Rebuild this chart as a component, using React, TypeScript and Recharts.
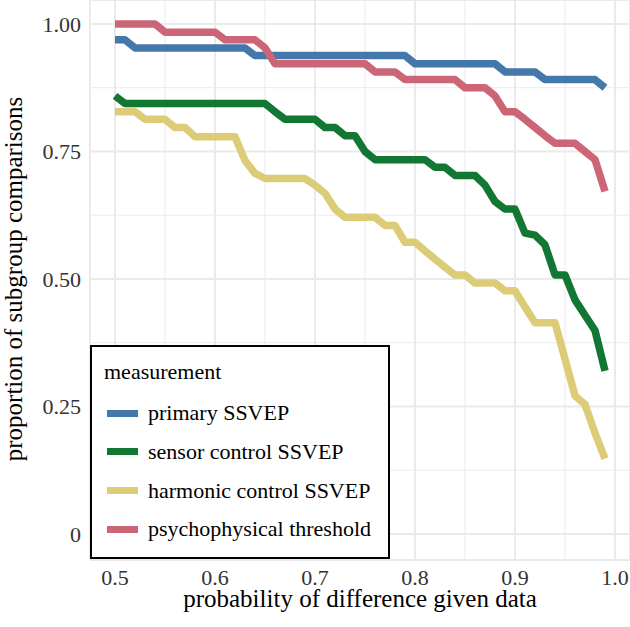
import React from "react";
import { LineChart, Line, XAxis, YAxis, CartesianGrid, Legend, Label } from "recharts";

const xValues = [
  0.5, 0.51, 0.52, 0.53, 0.54, 0.55, 0.56, 0.57, 0.58, 0.59,
  0.6, 0.61, 0.62, 0.63, 0.64, 0.65, 0.66, 0.67, 0.68, 0.69,
  0.7, 0.71, 0.72, 0.73, 0.74, 0.75, 0.76, 0.77, 0.78, 0.79,
  0.8, 0.81, 0.82, 0.83, 0.84, 0.85, 0.86, 0.87, 0.88, 0.89,
  0.9, 0.91, 0.92, 0.93, 0.94, 0.95, 0.96, 0.97, 0.98, 0.99,
];

const primarySSVEP = [
  0.969, 0.969, 0.953, 0.953, 0.953, 0.953, 0.953, 0.953, 0.953, 0.953,
  0.953, 0.953, 0.953, 0.953, 0.938, 0.938, 0.938, 0.938, 0.938, 0.938,
  0.938, 0.938, 0.938, 0.938, 0.938, 0.938, 0.938, 0.938, 0.938, 0.938,
  0.922, 0.922, 0.922, 0.922, 0.922, 0.922, 0.922, 0.922, 0.922, 0.906,
  0.906, 0.906, 0.906, 0.891, 0.891, 0.891, 0.891, 0.891, 0.891, 0.875,
];

const sensorControl = [
  0.859, 0.844, 0.844, 0.844, 0.844, 0.844, 0.844, 0.844, 0.844, 0.844,
  0.844, 0.844, 0.844, 0.844, 0.844, 0.844, 0.828, 0.813, 0.813, 0.813,
  0.813, 0.797, 0.797, 0.781, 0.781, 0.75, 0.734, 0.734, 0.734, 0.734,
  0.734, 0.734, 0.719, 0.719, 0.703, 0.703, 0.703, 0.684, 0.652, 0.637,
  0.637, 0.59, 0.586, 0.567, 0.508, 0.508, 0.459, 0.429, 0.399, 0.32,
];

const harmonicControl = [
  0.828, 0.828, 0.828, 0.813, 0.813, 0.813, 0.797, 0.797, 0.779, 0.779,
  0.779, 0.779, 0.779, 0.732, 0.707, 0.697, 0.697, 0.697, 0.697, 0.697,
  0.684, 0.668, 0.637, 0.621, 0.621, 0.621, 0.621, 0.605, 0.605, 0.572,
  0.572, 0.555, 0.539, 0.523, 0.508, 0.508, 0.492, 0.492, 0.492, 0.477,
  0.477, 0.445, 0.414, 0.414, 0.414, 0.343, 0.271, 0.254, 0.198, 0.148,
];

const psychophysical = [
  1.0, 1.0, 1.0, 1.0, 1.0, 0.984, 0.984, 0.984, 0.984, 0.984,
  0.984, 0.969, 0.969, 0.969, 0.969, 0.953, 0.922, 0.922, 0.922, 0.922,
  0.922, 0.922, 0.922, 0.922, 0.922, 0.922, 0.906, 0.906, 0.906, 0.891,
  0.891, 0.891, 0.891, 0.891, 0.891, 0.875, 0.875, 0.875, 0.859, 0.828,
  0.828, 0.813, 0.797, 0.781, 0.766, 0.766, 0.766, 0.75, 0.734, 0.672,
];

const seriesKeys = ["primary", "sensor", "harmonic", "psycho"];
const seriesNames = [
  "primary SSVEP",
  "sensor control SSVEP",
  "harmonic control SSVEP",
  "psychophysical threshold",
];
const seriesColors = ["#4477AA", "#117733", "#DDCC77", "#CC6677"];
const seriesValues = [primarySSVEP, sensorControl, harmonicControl, psychophysical];

const xMajorTicks = [0.5, 0.6, 0.7, 0.8, 0.9, 1.0];
const xMinorTicks = [0.55, 0.65, 0.75, 0.85, 0.95];
const yMajorTicks = [0, 0.25, 0.5, 0.75, 1.0];
const yMinorTicks = [0.125, 0.375, 0.625, 0.875];

const legendTitle = "measurement";
const xTitle = "probability of difference given data";
const yTitle = "proportion of subgroup comparisons";

const data = xValues.map((x, i) => {
  const row: Record<string, number> = { x };
  seriesKeys.forEach((k, j) => {
    row[k] = seriesValues[j][i];
  });
  return row;
});

const FONT = "'Liberation Serif', 'Times New Roman', serif";
const X_DOMAIN: [number, number] = [0.475, 1.015];
const Y_DOMAIN: [number, number] = [-0.051, 1.047];

const LegendBox = () => (
  <div
    style={{
      width: 300,
      height: 214,
      boxSizing: "border-box",
      border: "2px solid #000",
      background: "#fff",
      position: "relative",
      fontFamily: FONT,
      color: "#000",
    }}
  >
    <div
      style={{
        position: "absolute",
        left: 12,
        top: 10,
        fontSize: 22,
        lineHeight: "30px",
      }}
    >
      {legendTitle}
    </div>
    {seriesNames.map((name, i) => (
      <div
        key={name}
        style={{
          position: "absolute",
          left: 15,
          top: 51 + i * 38.8,
          height: 30,
          display: "flex",
          alignItems: "center",
        }}
      >
        <div style={{ width: 31, height: 7, background: seriesColors[i] }} />
        <span style={{ marginLeft: 10, fontSize: 22, lineHeight: "30px", whiteSpace: "nowrap" }}>
          {name}
        </span>
      </div>
    ))}
  </div>
);

export default function App() {
  return (
    <div style={{ position: "absolute", left: 0, top: 0, width: 630, height: 627, background: "#fff" }}>
      <LineChart
        width={630}
        height={627}
        data={data}
        margin={{ top: 0, right: 0, bottom: 0, left: 0 }}
      >
        <CartesianGrid
          stroke="#EBEBEB"
          strokeWidth={1}
          xAxisId="minor"
          yAxisId="minor"
        />
        <CartesianGrid stroke="#EAEAEA" strokeWidth={2} />
        <XAxis
          xAxisId="minor"
          dataKey="x"
          type="number"
          domain={X_DOMAIN}
          ticks={xMinorTicks}
          allowDataOverflow
          hide
        />
        <YAxis
          yAxisId="minor"
          type="number"
          domain={Y_DOMAIN}
          ticks={yMinorTicks}
          allowDataOverflow
          hide
        />
        <XAxis
          dataKey="x"
          type="number"
          domain={X_DOMAIN}
          ticks={xMajorTicks}
          tickFormatter={(v: number) => v.toFixed(1)}
          axisLine={false}
          tickLine={false}
          tickSize={6}
          tickMargin={3}
          height={67}
          allowDataOverflow
          tick={{ fontSize: 22, fill: "#333", fontFamily: FONT }}
        >
          <Label
            content={(p: any) => {
              const vb = p.viewBox || {};
              return (
                <text
                  x={vb.x + vb.width / 2}
                  y={607}
                  textAnchor="middle"
                  fontSize={25}
                  fontFamily={FONT}
                  fill="#000"
                >
                  {xTitle}
                </text>
              );
            }}
          />
        </XAxis>
        <YAxis
          type="number"
          domain={Y_DOMAIN}
          ticks={yMajorTicks}
          tickFormatter={(v: number) => (v === 0 ? "0" : v.toFixed(2))}
          axisLine={false}
          tickLine={false}
          tickSize={6}
          tickMargin={3}
          width={90}
          allowDataOverflow
          tick={{ fontSize: 22, fill: "#333", fontFamily: FONT }}
        >
          <Label
            content={() => {
              const cy = 279;
              const bx = 22;
              return (
                <text
                  x={bx}
                  y={cy}
                  transform={`rotate(-90, ${bx}, ${cy})`}
                  textAnchor="middle"
                  fontSize={25}
                  fontFamily={FONT}
                  fill="#000"
                >
                  {yTitle}
                </text>
              );
            }}
          />
        </YAxis>
        <Legend
          layout="vertical"
          align="center"
          verticalAlign="middle"
          content={() => <LegendBox />}
          wrapperStyle={{ left: 90, top: 345, width: 300, height: 214 }}
        />
        {seriesKeys.map((k, i) => (
          <Line
            key={k}
            dataKey={k}
            name={seriesNames[i]}
            type="linear"
            stroke={seriesColors[i]}
            strokeWidth={7.5}
            strokeLinecap="butt"
            strokeLinejoin="round"
            dot={false}
            activeDot={false}
            isAnimationActive={false}
          />
        ))}
      </LineChart>
    </div>
  );
}
